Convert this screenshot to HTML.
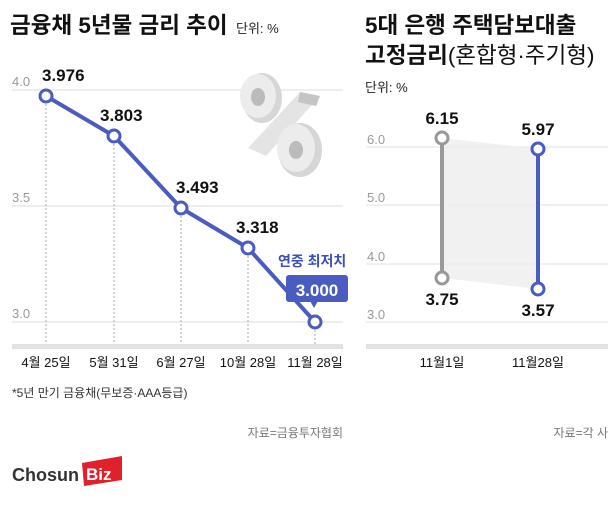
<!DOCTYPE html>
<html><head><meta charset="utf-8"><style>
body{margin:0;background:#fff;width:616px;height:511px;overflow:hidden}
svg text{font-family:"Liberation Sans","Noto Sans CJK KR",sans-serif}
</style></head><body>
<svg width="616" height="511" viewBox="0 0 616 511">
<text x="10" y="33" font-size="22.5" font-weight="bold" fill="#111">금융채 5년물 금리 추이</text>
<text x="236" y="33" font-size="13" fill="#222">단위: %</text>
<g stroke="#ddd" stroke-width="1">
<line x1="12" y1="90" x2="343" y2="90"/>
<line x1="12" y1="206" x2="343" y2="206"/>
<line x1="12" y1="322" x2="343" y2="322"/>
</g>
<g font-size="13" fill="#999"><text x="12" y="86">4.0</text><text x="12" y="202">3.5</text><text x="12" y="318">3.0</text></g>
<g>
<ellipse cx="262" cy="98" rx="20" ry="25" fill="#d6d6d6"/><ellipse cx="258" cy="96" rx="18" ry="22" fill="#ececec"/><ellipse cx="258" cy="97" rx="7" ry="9" fill="#bbb"/>
<polygon points="248,148 300,92 320,96 266,156" fill="#e4e4e4"/><polygon points="300,92 320,96 316,106 298,102" fill="#c4c4c4"/>
<ellipse cx="300" cy="150" rx="22" ry="27" fill="#d6d6d6"/><ellipse cx="296" cy="148" rx="19" ry="24" fill="#ececec"/><ellipse cx="296" cy="150" rx="7" ry="9" fill="#bbb"/>
</g>
<g stroke="#aaa" stroke-dasharray="2,2"><line x1="46" y1="96" x2="46" y2="346"/><line x1="114" y1="136" x2="114" y2="346"/><line x1="181" y1="208" x2="181" y2="346"/><line x1="248" y1="248" x2="248" y2="346"/><line x1="315" y1="322" x2="315" y2="346"/></g>
<rect x="12" y="344" width="331" height="5" fill="#e2e2e2"/>
<polyline points="46,96 114,136 181,208 248,248 315,322" fill="none" stroke="#4a5cc0" stroke-width="4"/>
<g fill="#fff" stroke="#4a5cc0" stroke-width="3"><circle cx="46" cy="96" r="6"/><circle cx="114" cy="136" r="6"/><circle cx="181" cy="208" r="6"/><circle cx="248" cy="248" r="6"/><circle cx="315" cy="322" r="6"/></g>
<g font-size="17" font-weight="bold" fill="#111"><text x="42" y="81">3.976</text><text x="100" y="121">3.803</text><text x="176" y="193">3.493</text><text x="236" y="233">3.318</text></g>
<text x="278" y="266" font-size="14" font-weight="bold" fill="#3a4fb8">연중 최저치</text>
<rect x="286" y="275" width="62" height="27" rx="3" fill="#4a5cc0"/>
<polygon points="310,301 318,301 314,308" fill="#4a5cc0"/>
<text x="317" y="296" font-size="17" font-weight="bold" fill="#fff" text-anchor="middle">3.000</text>
<g font-size="13" fill="#111" text-anchor="middle"><text x="46" y="367">4월 25일</text><text x="114" y="367">5월 31일</text><text x="181" y="367">6월 27일</text><text x="248" y="367">10월 28일</text><text x="315" y="367">11월 28일</text></g>
<text x="12" y="397" font-size="12" fill="#333">*5년 만기 금융채(무보증·AAA등급)</text>
<text x="343" y="437" font-size="12" fill="#777" text-anchor="end">자료=금융투자협회</text>
<text x="12" y="481" font-size="18" font-weight="bold" fill="#333">Chosun</text>
<polygon points="82,463 122,456 122,480 84,486" fill="#e0202a"/>
<text x="86" y="480" font-size="17" font-weight="bold" fill="#fff" font-family="Liberation Serif">Biz</text>
<text x="365" y="33" font-size="22.5" font-weight="bold" fill="#111">5대 은행 주택담보대출</text>
<text x="365" y="63" font-size="22.5" fill="#111"><tspan font-weight="bold">고정금리</tspan>(혼합형·주기형)</text>
<text x="365" y="92" font-size="13" fill="#222">단위: %</text>
<g stroke="#e0e0e0"><line x1="366" y1="147" x2="608" y2="147"/><line x1="366" y1="205" x2="608" y2="205"/><line x1="366" y1="264" x2="608" y2="264"/><line x1="366" y1="322" x2="608" y2="322"/></g>
<g font-size="13" fill="#999"><text x="367" y="144">6.0</text><text x="367" y="202">5.0</text><text x="367" y="261">4.0</text><text x="367" y="319">3.0</text></g>
<polygon points="442,138 538,149 538,289 442,278" fill="#eee" opacity="0.8"/>
<rect x="366" y="344" width="242" height="5" fill="#e2e2e2"/>
<line x1="442" y1="138" x2="442" y2="278" stroke="#999" stroke-width="4"/>
<line x1="538" y1="149" x2="538" y2="289" stroke="#4a5cc0" stroke-width="4"/>
<g fill="#fff" stroke-width="3"><circle cx="442" cy="138" r="6" stroke="#999"/><circle cx="442" cy="278" r="6" stroke="#999"/><circle cx="538" cy="149" r="6" stroke="#4a5cc0"/><circle cx="538" cy="289" r="6" stroke="#4a5cc0"/></g>
<g font-size="17" font-weight="bold" fill="#111" text-anchor="middle"><text x="442" y="124">6.15</text><text x="442" y="305">3.75</text><text x="538" y="135">5.97</text><text x="538" y="316">3.57</text></g>
<g font-size="13" fill="#111" text-anchor="middle"><text x="442" y="367">11월1일</text><text x="538" y="367">11월28일</text></g>
<text x="608" y="437" font-size="12" fill="#777" text-anchor="end">자료=각 사</text>
</svg>
</body></html>
